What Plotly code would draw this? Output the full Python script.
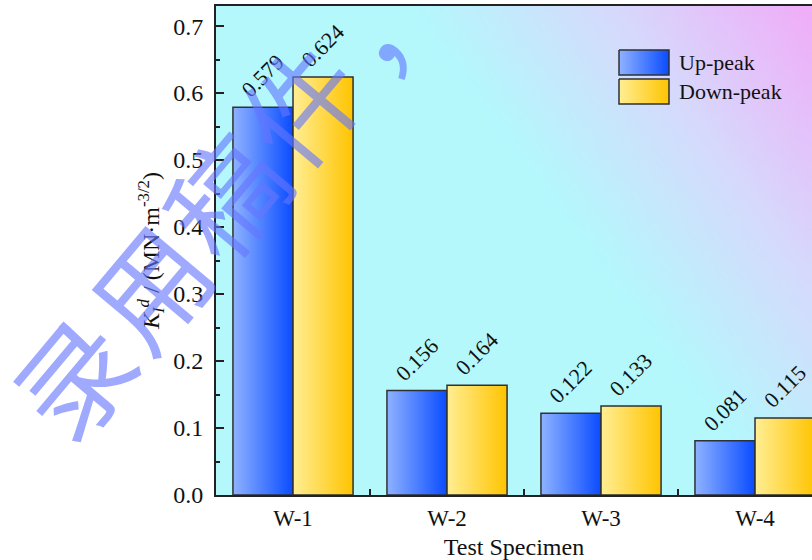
import base64
import struct
import zlib

import plotly.graph_objects as go

# ---------------- data ----------------
categories = ["W-1", "W-2", "W-3", "W-4"]
up_peak = [0.579, 0.156, 0.122, 0.081]
down_peak = [0.624, 0.164, 0.133, 0.115]
series_names = ["Up-peak", "Down-peak"]
y_ticks = [0.0, 0.1, 0.2, 0.3, 0.4, 0.5, 0.6, 0.7]
watermark_chars = ["录", "用", "稿", "件"]

FONT = "Times New Roman, Liberation Serif, serif"
BLUE_SCALE = [[0, "#8fb2ff"], [1, "#0a4cff"]]
GOLD_SCALE = [[0, "#ffee94"], [1, "#ffc400"]]
EDGE = "#2e3135"

# plot-area pixel frame (for overlays)
PX_L, PX_R, PX_T, PX_B = 216, 812, 6, 495


def to_paper(px, py):
    return (px - PX_L) / (PX_R - PX_L), (PX_B - py) / (PX_B - PX_T)


# ---------------- background gradient image ----------------
def make_png(w, h, fn):
    raw = bytearray()
    for j in range(h):
        raw.append(0)
        for i in range(w):
            raw.extend(fn(i / (w - 1), j / (h - 1)))

    def chunk(tag, data):
        c = struct.pack(">I", len(data)) + tag + data
        return c + struct.pack(">I", zlib.crc32(tag + data) & 0xFFFFFFFF)

    png = b"\x89PNG\r\n\x1a\n"
    png += chunk(b"IHDR", struct.pack(">IIBBBBB", w, h, 8, 2, 0, 0, 0))
    png += chunk(b"IDAT", zlib.compress(bytes(raw), 9))
    png += chunk(b"IEND", b"")
    return "data:image/png;base64," + base64.b64encode(png).decode()


CYAN = (180, 248, 252)
MID = (214, 218, 252)
PINK = (240, 174, 248)


def bg(u, v):
    d = u - 0.6 * v
    t = min(max((d - 0.33) / 0.67, 0.0), 1.0)
    if t < 0.5:
        a, b, s = CYAN, MID, t / 0.5
    else:
        a, b, s = MID, PINK, (t - 0.5) / 0.5
    return [int(round(a[k] + (b[k] - a[k]) * s)) for k in range(3)]


bg_src = make_png(60, 50, bg)

# ---------------- figure ----------------
fig = go.Figure()

half = 0.39  # bar width in category units
for ci, cat in enumerate(categories):
    for si, (vals, scale) in enumerate([(up_peak, BLUE_SCALE), (down_peak, GOLD_SCALE)]):
        x0 = ci - half if si == 0 else ci
        x1 = ci if si == 0 else ci + half
        v = vals[ci]
        fig.add_trace(
            go.Scatter(
                x=[x0, x0, x1, x1, x0],
                y=[0, v, v, 0, 0],
                mode="lines",
                fill="toself",
                line=dict(color=EDGE, width=1.5),
                fillgradient=dict(type="horizontal", colorscale=scale, start=x0, stop=x1),
                showlegend=False,
                hoverinfo="skip",
            )
        )
        fig.add_annotation(
            x=(x0 + x1) / 2,
            y=v,
            text=f"{v:.3f}",
            showarrow=False,
            textangle=-45,
            xanchor="center",
            yanchor="bottom",
            yshift=2,
            font=dict(family=FONT, size=22, color="#111"),
        )

# legend drawn on an overlay axis in pixel units
legend_boxes = [(50, 75), (79, 104)]
for (ya, yb), scale, name in zip(legend_boxes, [BLUE_SCALE, GOLD_SCALE], series_names):
    fig.add_trace(
        go.Scatter(
            x=[619, 619, 669, 669, 619],
            y=[ya, yb, yb, ya, ya],
            xaxis="x2",
            yaxis="y2",
            mode="lines",
            fill="toself",
            line=dict(color=EDGE, width=1.5),
            fillgradient=dict(type="horizontal", colorscale=scale, start=619, stop=669),
            showlegend=False,
            hoverinfo="skip",
        )
    )
    fig.add_annotation(
        x=677, y=(ya + yb) / 2, xref="x2", yref="y2", text=name, showarrow=False,
        xanchor="left", yanchor="middle", font=dict(family=FONT, size=22, color="#111"),
    )

# watermark (one character per annotation, along a diagonal)
WM_COLOR = "rgba(100,118,255,0.62)"
WM_SIZE = 114
start_px, step_px = (70, 375), (76, -91)
for k, ch in enumerate(watermark_chars):
    px = start_px[0] + k * step_px[0]
    py = start_px[1] + k * step_px[1]
    xp, yp = to_paper(px, py)
    fig.add_annotation(
        x=xp, y=yp, xref="paper", yref="paper", text=ch, showarrow=False,
        textangle=-50, xanchor="center", yanchor="middle",
        font=dict(family="Noto Sans CJK SC", size=WM_SIZE, color=WM_COLOR),
    )
cx, cy = to_paper(382, 10)
fig.add_annotation(
    x=cx, y=cy, xref="paper", yref="paper", text="，", showarrow=False,
    textangle=-50, xanchor="center", yanchor="middle",
    font=dict(family="Noto Sans CJK SC", size=WM_SIZE, color=WM_COLOR),
)

fig.add_layout_image(
    source=bg_src, xref="paper", yref="paper", x=0, y=1, sizex=1, sizey=1,
    sizing="stretch", layer="below",
)

fig.update_layout(
    width=812,
    height=560,
    margin=dict(l=PX_L, r=812 - PX_R, t=PX_T, b=560 - PX_B),
    paper_bgcolor="white",
    plot_bgcolor="rgba(0,0,0,0)",
    font=dict(family=FONT, color="#111"),
    showlegend=False,
    xaxis=dict(
        range=[-0.5, 3.37],
        tickmode="array",
        tickvals=list(range(len(categories))),
        ticktext=categories,
        ticks="",
        tickfont=dict(family=FONT, size=23),
        ticklabelstandoff=1,
        showgrid=False,
        zeroline=False,
        showline=True,
        linecolor="#222",
        linewidth=2,
        mirror=True,
        minor=dict(tickvals=[0.5, 1.5, 2.5], ticks="inside", ticklen=6, tickwidth=1.5,
                   tickcolor="#222", showgrid=False),
        title=dict(text="Test Specimen", font=dict(family=FONT, size=24), standoff=10),
    ),
    yaxis=dict(
        range=[0, 0.73],
        tickmode="array",
        tickvals=y_ticks,
        tickformat=".1f",
        ticks="inside",
        ticklen=8,
        tickwidth=1.5,
        tickcolor="#222",
        tickfont=dict(family=FONT, size=24),
        ticklabelstandoff=6,
        showgrid=False,
        zeroline=False,
        showline=True,
        linecolor="#222",
        linewidth=2,
        minor=dict(dtick=0.05, tick0=0.05, ticks="inside", ticklen=4, tickwidth=1.5,
                   tickcolor="#222", showgrid=False),
        title=dict(
            text="<i>K</i><sub><i>I</i></sub><sup><i>d</i></sup> / (MN·m<sup>-3/2</sup>)",
            font=dict(family=FONT, size=24),
            standoff=7,
        ),
    ),
    xaxis2=dict(overlaying="x", anchor="y", range=[PX_L, PX_R], visible=False, fixedrange=True),
    yaxis2=dict(overlaying="y", anchor="x", range=[PX_B, PX_T], visible=False, fixedrange=True),
)

fig.write_html("out.html")
